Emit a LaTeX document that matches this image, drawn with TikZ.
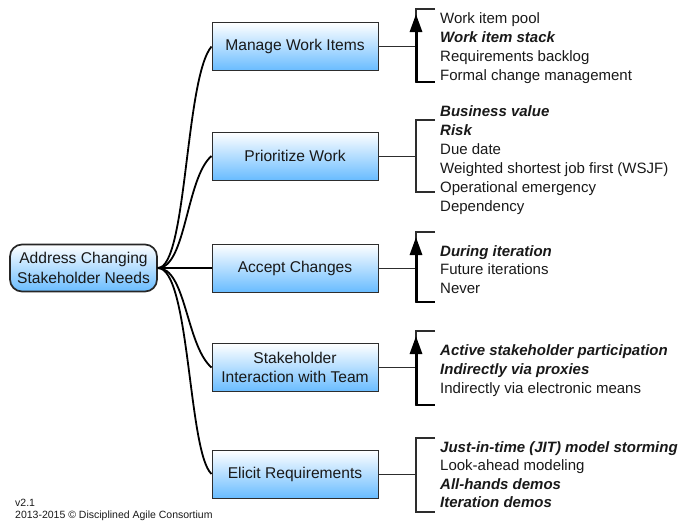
\documentclass[tikz,border=0pt]{standalone}
\usepackage{fontspec}
\setmainfont{Liberation Sans}
\usetikzlibrary{arrows.meta}
\definecolor{boxblue}{RGB}{105,188,255}
\definecolor{edgecol}{RGB}{45,45,45}
\definecolor{txt}{RGB}{25,25,25}
\begin{document}
\begin{tikzpicture}[x=1pt,y=-1pt,
  branch/.style={draw=edgecol, line width=1pt, top color=white, bottom color=boxblue,
    minimum width=166pt, minimum height=48pt, align=center, inner sep=2pt,
    font=\fontsize{15.6}{19.5}\selectfont, text=txt},
  rootbox/.style={branch, rounded corners=12pt, line width=1.7pt, draw=black!85,
    minimum width=147pt, minimum height=47pt},
  item/.style={anchor=base west, inner sep=0pt, font=\fontsize{15}{18}\selectfont, text=txt},
  bitem/.style={item, font=\fontsize{15}{18}\selectfont\bfseries\itshape},
  trunk/.style={line width=1.8pt, black},
  link/.style={line width=1pt, edgecol},
  brk/.style={line width=1.1pt, edgecol},
  uparrow/.style={line width=3pt, black, -{Triangle[width=12pt,length=18pt]}}]
\useasboundingbox (0,0) rectangle (688,523);

% root and branches
\node[rootbox] (root) at (83.5,268) {Address Changing\\Stakeholder Needs};
\node[branch] (b1) at (295,46.5) {Manage Work Items};
\node[branch] (b2) at (295,156) {Prioritize Work};
\node[branch] (b3) at (295,268) {Accept Changes};
\node[branch] (b4) at (295,367.5) {Stakeholder\\Interaction with Team};
\node[branch] (b5) at (295,474) {Elicit Requirements};

% curved connectors
\draw[trunk] (root.east) .. controls (187,268) and (185,78) .. (b1.west);
\draw[trunk] (root.east) .. controls (186,268) and (186,178) .. (b2.west);
\draw[trunk] (root.east) -- (b3.west);
\draw[trunk] (root.east) .. controls (186,268) and (186,345) .. (b4.west);
\draw[trunk] (root.east) .. controls (190,268) and (188,452) .. (b5.west);

% brackets
\foreach \i/\t/\b in {1/9/82, 2/120/192, 3/232/302, 4/331/405, 5/438/512} {
  \coordinate (top\i) at (416,\t);
  \coordinate (bot\i) at (416,\b);
  \coordinate (topend\i) at (435,\t);
  \coordinate (botend\i) at (435,\b);
  \draw[link] (b\i.east) -- (b\i.east -| top\i);
  \draw[brk] (topend\i) -- (top\i) -- (bot\i) -- (botend\i);
}
\foreach \i in {1,3,4} {
  \draw[line width=1.6pt, black] (bot\i) -- (botend\i);
  \draw[uparrow] (bot\i) -- ([yshift=-5pt]top\i);
}

% Manage Work Items
\node[item]  (i11) at (440,23) {Work item pool};
\node[bitem] (i12) at (440,42) {Work item stack};
\node[item]  (i13) at (440,61) {Requirements backlog};
\node[item]  (i14) at (440,80) {Formal change management};

% Prioritize Work
\node[bitem] (i21) at (440,116) {Business value};
\node[bitem] (i22) at (440,135) {Risk};
\node[item]  (i23) at (440,154) {Due date};
\node[item]  (i24) at (440,173) {Weighted shortest job first (WSJF)};
\node[item]  (i25) at (440,192) {Operational emergency};
\node[item]  (i26) at (440,211) {Dependency};

% Accept Changes
\node[bitem] (i31) at (440,256) {During iteration};
\node[item]  (i32) at (440,274.5) {Future iterations};
\node[item]  (i33) at (440,293) {Never};

% Stakeholder Interaction
\node[bitem] (i41) at (440,355) {Active stakeholder participation};
\node[bitem] (i42) at (440,374) {Indirectly via proxies};
\node[item]  (i43) at (440,393) {Indirectly via electronic means};

% Elicit Requirements
\node[bitem] (i51) at (440,452) {Just-in-time (JIT) model storming};
\node[item]  (i52) at (440,470.5) {Look-ahead modeling};
\node[bitem] (i53) at (440,489) {All-hands demos};
\node[bitem] (i54) at (440,507.5) {Iteration demos};

% footer
\node[anchor=base west, inner sep=0pt, font=\fontsize{10.5}{12}\selectfont, text=txt] (ver) at (15,506) {v2.1};
\node[anchor=base west, inner sep=0pt, font=\fontsize{10.5}{12}\selectfont, text=txt] (copy) at (15,518) {2013-2015 © Disciplined Agile Consortium};
\end{tikzpicture}
\end{document}
